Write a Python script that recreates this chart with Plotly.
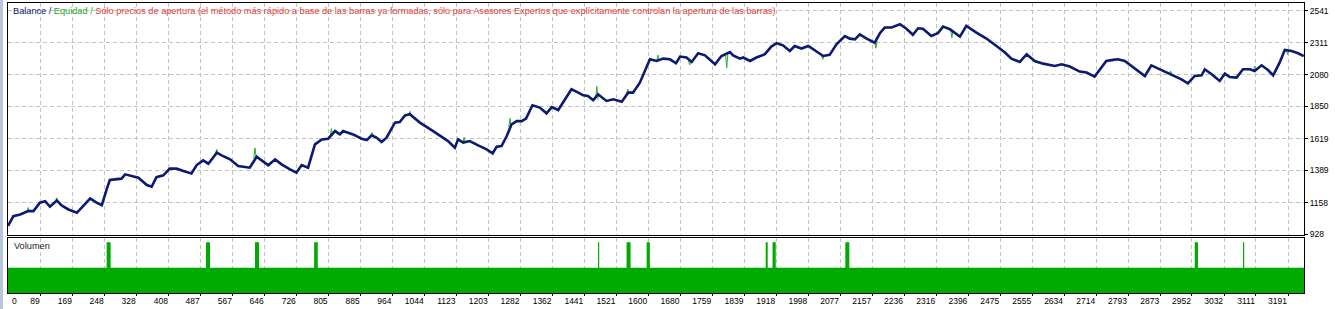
import plotly.graph_objects as go

# ---------------- data ----------------
BAL_X = [8, 21, 38, 58, 71, 87, 100, 112, 129, 141, 158, 179, 191, 212, 228, 241, 253, 261, 274, 290,
         299, 315, 332, 353, 365, 377, 394, 410, 427, 444, 464, 477, 493, 506, 527, 539, 560, 580, 597, 609,
         626, 642, 655, 672, 688, 709, 725, 738, 754, 771, 788, 804, 821, 833, 841, 866, 887, 900, 912, 924,
         937, 949, 970, 982, 995, 1007, 1032, 1065, 1102, 1119, 1127, 1140, 1156, 1177, 1198, 1213, 1223, 1235, 1248, 1260,
         1273, 1285, 1296, 1312, 1330, 1347, 1360, 1376, 1393, 1409, 1426, 1438, 1450, 1463, 1475, 1496, 1513, 1534, 1550, 1562,
         1579, 1592, 1604, 1621, 1637, 1654, 1669, 1679, 1695, 1708, 1724, 1741, 1766, 1782, 1803, 1811, 1828, 1836, 1853, 1869,
         1890, 1906, 1919, 1935, 1952, 1964, 1981, 1998, 2018, 2035, 2051, 2068, 2089, 2101, 2114, 2126, 2143, 2163, 2176, 2188,
         2205, 2226, 2242, 2258, 2271, 2283, 2304, 2320, 2333, 2350, 2375, 2391, 2416, 2441, 2466, 2487, 2503, 2524, 2541, 2561,
         2582, 2611, 2628, 2648, 2673, 2690, 2710, 2723, 2739, 2756, 2768, 2785, 2806, 2835, 2851, 2872, 2893, 2905, 2926, 2942,
         2959, 2976, 2984, 3001, 3021, 3034, 3046, 3063, 3079, 3096, 3108, 3125, 3141, 3154, 3170, 3183, 3200, 3216, 3230]
BAL_Y = [990, 1060, 1072, 1096, 1096, 1157, 1168, 1128, 1173, 1137, 1108, 1085, 1121, 1188, 1157, 1139, 1253, 1320, 1325, 1330,
         1361, 1349, 1337, 1284, 1272, 1341, 1354, 1402, 1402, 1385, 1368, 1428, 1462, 1438, 1517, 1498, 1469, 1421, 1416, 1409,
         1488, 1457, 1426, 1469, 1433, 1397, 1373, 1428, 1409, 1577, 1613, 1618, 1673, 1649, 1673, 1649, 1618, 1608, 1642, 1626,
         1594, 1626, 1734, 1738, 1786, 1794, 1734, 1673, 1601, 1553, 1613, 1590, 1601, 1570, 1541, 1512, 1561, 1565, 1637, 1722,
         1745, 1745, 1763, 1859, 1842, 1801, 1846, 1825, 1902, 1974, 1950, 1931, 1926, 1895, 1938, 1890, 1902, 1885, 1950, 1950,
         2022, 2106, 2190, 2178, 2195, 2190, 2162, 2210, 2203, 2171, 2234, 2219, 2154, 2214, 2243, 2219, 2195, 2203, 2178, 2203,
         2227, 2282, 2306, 2291, 2250, 2286, 2268, 2286, 2250, 2214, 2222, 2298, 2358, 2339, 2334, 2370, 2339, 2310, 2378, 2419,
         2419, 2443, 2410, 2367, 2414, 2411, 2358, 2378, 2426, 2407, 2354, 2431, 2383, 2340, 2286, 2239, 2195, 2171, 2227, 2178,
         2159, 2142, 2154, 2138, 2102, 2095, 2066, 2118, 2178, 2186, 2190, 2178, 2130, 2070, 2147, 2118, 2087, 2070, 2046, 2017,
         2070, 2075, 2118, 2082, 2034, 2087, 2063, 2058, 2118, 2118, 2106, 2147, 2113, 2075, 2166, 2258, 2250, 2234, 2214]

EQ_SPIKE_X = [58, 129, 527, 622, 812, 913, 1007, 1142, 1256, 1472, 1549, 1624, 1703, 1795, 2034, 2166, 2355, 2899, 3108, 3190]
EQ_SPIKE_BASE = [1096, 1173, 1517, 1478, 1640, 1642, 1794, 1590, 1700, 1900, 1945, 2180, 2180, 2235, 2214, 2320, 2400, 2085, 2106, 2258]
EQ_SPIKE_TIP = [1122, 1191, 1540, 1551, 1690, 1662, 1815, 1628, 1765, 1996, 1975, 2220, 2150, 2128, 2190, 2270, 2346, 2105, 2140, 2225]

VOL_SPIKE_START = [253, 500, 622, 769, 1475, 1546, 1596, 1892, 1909, 2090, 2959, 3079]
VOL_SPIKE_END = [263, 510, 632, 778, 1478, 1556, 1604, 1897, 1917, 2100, 2967, 3082]
VOL_BASE = 1.0
VOL_SPIKE = 2.0

X_TICKS = [0, 89, 169, 248, 328, 408, 487, 567, 646, 726, 805, 885, 964, 1044, 1123, 1203, 1282, 1362,
           1441, 1521, 1600, 1680, 1759, 1839, 1918, 1998, 2077, 2157, 2236, 2316, 2396, 2475, 2555, 2634,
           2714, 2793, 2873, 2952, 3032, 3111, 3191]
Y_TICKS = [928, 1158, 1389, 1619, 1850, 2080, 2311, 2541]

X_RANGE = [7.7, 3230.7]

# ---------------- build traces ----------------
NAVY = "#0c1a70"
EQ_GREEN = "#2fa82f"
VOL_GREEN = "#00aa00"
GRID = "#c4c4c4"

eq_x, eq_y = [], []
for x, b, t in zip(EQ_SPIKE_X, EQ_SPIKE_BASE, EQ_SPIKE_TIP):
    eq_x += [x - 3, x, x + 3, None]
    eq_y += [b, t, b, None]

vol_x = [X_RANGE[0]]
vol_y = [VOL_BASE]
for s, e in zip(VOL_SPIKE_START, VOL_SPIKE_END):
    vol_x += [s, s, e, e]
    vol_y += [VOL_BASE, VOL_SPIKE, VOL_SPIKE, VOL_BASE]
vol_x.append(X_RANGE[1])
vol_y.append(VOL_BASE)

fig = go.Figure()
fig.add_trace(go.Scatter(x=vol_x, y=vol_y, mode="lines", line=dict(width=0, color=VOL_GREEN),
                         fill="tozeroy", fillcolor=VOL_GREEN, xaxis="x", yaxis="y", hoverinfo="skip"))
fig.add_trace(go.Scatter(x=eq_x, y=eq_y, mode="lines", line=dict(width=1, color=EQ_GREEN),
                         xaxis="x2", yaxis="y2", connectgaps=False))
fig.add_trace(go.Scatter(x=BAL_X, y=BAL_Y, mode="lines", line=dict(width=2.6, color=NAVY),
                         xaxis="x2", yaxis="y2"))

FONT = "Liberation Sans, Arial, sans-serif"
axis_common = dict(showline=True, mirror=True, linecolor="black", linewidth=1, zeroline=False)

fig.update_layout(
    width=1335, height=309,
    margin=dict(l=8, r=31, t=3, b=16),
    paper_bgcolor="white", plot_bgcolor="white",
    showlegend=False,
    font=dict(family=FONT, size=8.5, color="black"),
    xaxis=dict(domain=[0, 1], range=X_RANGE, anchor="y",
               tickvals=X_TICKS[1:], ticktext=[str(v) for v in X_TICKS[1:]],
               ticks="outside", ticklen=2, tickcolor="black",
               ticklabelposition="outside left",
               showgrid=True, gridcolor=GRID, griddash="4px,3px", gridwidth=1,
               tickfont=dict(size=8.5), **axis_common),
    yaxis=dict(domain=[0, 0.1897], range=[0, 2.17], anchor="x",
               showticklabels=False, ticks="", showgrid=False, **axis_common),
    xaxis2=dict(domain=[0, 1], range=X_RANGE, anchor="y2", matches="x",
                tickvals=X_TICKS[1:], showticklabels=False, ticks="",
                showgrid=True, gridcolor=GRID, griddash="4px,3px", gridwidth=1, **axis_common),
    yaxis2=dict(domain=[0.2017, 1], range=[927.5, 2596], anchor="x2", side="right",
                tickvals=Y_TICKS, ticktext=[str(v) for v in Y_TICKS],
                ticks="outside", ticklen=3, tickcolor="black",
                showgrid=True, gridcolor=GRID, griddash="4px,3px", gridwidth=1,
                tickfont=dict(size=8.5), **axis_common),
)

# first x label "0" sits at the left edge of the panel
fig.add_annotation(x=0.0015, y=-0.005, xref="paper", yref="paper", text=str(X_TICKS[0]),
                   showarrow=False, xanchor="left", yanchor="top", font=dict(size=8.5, color="black"))

title_html = (f"<span style='color:{NAVY}'>Balance / </span>"
              f"<span style='color:#22aa22'>Equidad / </span>"
              "<span style='color:#e33a3a'>Sólo precios de apertura (el método más rápido a base de las barras ya formadas, "
              "sólo para Asesores Expertos que explícitamente controlan la apertura de las barras)</span>")
fig.add_annotation(x=0.0026, y=0.974, xref="paper", yref="paper", text=title_html, showarrow=False,
                   xanchor="left", yanchor="middle", font=dict(size=9.2))
fig.add_annotation(x=0.0034, y=0.163, xref="paper", yref="paper", text="Volumen", showarrow=False,
                   xanchor="left", yanchor="middle", font=dict(size=9.2, color="#202020"))

# window frame strip on the far left
fig.add_shape(type="rect", xref="paper", yref="paper", x0=-8 / 1296, x1=-5 / 1296, y0=-16 / 290, y1=1 + 3 / 290,
              fillcolor="#b7c6d8", line=dict(width=0), layer="above")

fig.write_html("out.html")
